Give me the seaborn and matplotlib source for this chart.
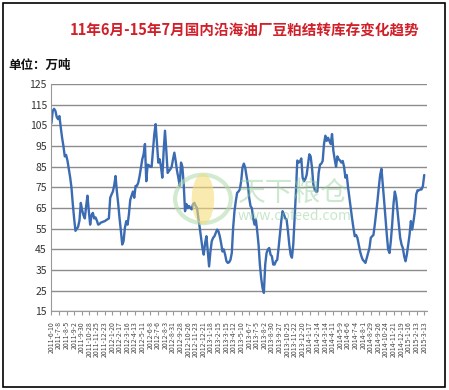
import numpy as np
import pandas as pd
import seaborn as sns
import matplotlib.pyplot as plt
from matplotlib.patches import Circle, Ellipse, Rectangle

# weekly soybean meal carry-over stock, 10k tonnes
stock_2011_2012a = [106, 112, 113, 112, 109, 108, 109.5, 104, 99, 95, 90, 90.7, 88, 84, 80, 75,
                    67, 60, 54, 55, 56, 59, 67.5, 64, 61.5, 60, 66, 71, 63.5, 57, 61.5, 62.7,
                    60, 60.5, 59, 57, 57.3, 58, 58.2, 58.5, 58.7, 59.2, 59.6, 60, 70, 71.6, 73]
stock_2012b = [76, 80.5, 73, 67, 60, 54, 47.4, 49, 55.5, 58.7, 57, 62, 69, 71, 73, 70, 75.7,
               75.7, 77.3, 80.5, 84.6, 88.6, 91, 96, 78, 86, 85.7, 85, 84.9, 92.7, 100.8, 105.6,
               96, 87, 88.6, 85, 79.7, 92.7, 102.4, 92.7, 82, 83, 83.8, 85, 88.6, 91.8, 87.8]
stock_2013 = [83, 79.7, 75.7, 87, 85, 76.5, 63.5, 67, 65, 66, 65, 64.4, 67, 67.5, 66, 65,
              60, 55.5, 50.6, 45.7, 42.5, 48, 51.4, 44, 36.8, 44, 49, 50.6, 51.4, 53, 54.6, 53.8,
              51.4, 48, 44, 45, 42.5, 39.3, 38.5, 38.8, 40, 43.3, 55.5, 63.5, 68.4, 72.4, 73, 74]
stock_2014a = [78, 84.6, 86.5, 84.6, 80.5, 76.5, 70, 66, 65, 60, 57, 59.5, 54, 47.4, 37.7, 31,
               26.3, 24, 37.7, 43.3, 45, 45.7, 42.5, 41.7, 37.7, 37.7, 39.3, 40, 45.7, 52, 58.7,
               63.5, 62, 60, 59.5, 54, 47.4, 42.5, 41, 47.4, 60, 73, 88, 87, 87.5, 89, 79.7, 78]
stock_2014b = [79, 81, 86, 91, 90, 84.6, 76.5, 74, 73, 73, 82, 86, 86.5, 87.8, 96, 100, 97.5,
               99, 97.5, 96, 100.8, 92.7, 88.6, 85, 90, 88.6, 88, 87, 87.8, 85, 79.7, 81, 75, 70,
               65, 60, 55.5, 51.4, 52, 50.6, 47.4, 44, 41.7, 40, 39.3, 38.5, 41, 43.3]
stock_2015 = [45.7, 50.6, 51.4, 52, 57, 62.7, 68.4, 75, 81, 84, 76.5, 68.4, 60, 52, 45, 43.3,
              49, 57, 67, 73, 70, 63.5, 57, 50.6, 47.4, 45.7, 41.7, 39.3, 42.5, 47.4, 52, 58.7,
              54.6, 58.7, 63.5, 71.6, 73.6, 73.6, 74, 74, 75.7, 81]

stock = stock_2011_2012a + stock_2012b + stock_2013 + stock_2014a + stock_2014b + stock_2015
date_labels = [d.strftime('%Y-') + str(d.month) + '-' + str(d.day)
               for d in pd.date_range('2011-06-10', periods=50, freq='4W-FRI')]
y_ticks = list(range(15, 126, 10))

df = pd.DataFrame({'idx': np.arange(len(stock)), 'stock': stock})

sns.set_style('white')
plt.rcParams['font.family'] = ['Noto Sans CJK SC', 'DejaVu Sans']

fig = plt.figure(figsize=(4.49, 3.90), dpi=100)
ax = fig.add_axes([0.1136, 0.2013, 0.8363, 0.5833])

sns.lineplot(data=df, x='idx', y='stock', ax=ax, color='#3b6bb2', linewidth=1.7)

ax.set_ylim(15, 125)
ax.set_yticks(y_ticks)
ax.set_yticklabels([str(v) for v in y_ticks], fontsize=7.5, color='#333333')
ax.set_xlim(-0.3, len(stock) + 0.7)
ax.set_xticks(np.linspace(0, len(stock) - 1, len(date_labels)))
ax.set_xticklabels(date_labels, rotation=90, fontsize=5, color='#444444',
                   va='top', ha='center')
ax.tick_params(axis='x', length=3, color='#999999', pad=4, bottom=True, direction='out')
ax.tick_params(axis='y', length=0, pad=3)
ax.set_xlabel('')
ax.set_ylabel('')
ax.grid(axis='y', color='#8c8c8c', linewidth=1)
ax.set_axisbelow(True)
for s in ['top', 'right']:
    ax.spines[s].set_visible(False)
ax.spines['left'].set_color('#999999')
ax.spines['bottom'].set_color('#999999')

# title and unit
fig.text(0.545, 0.922, '11年6月-15年7月国内沿海油厂豆粕结转库存变化趋势',
         ha='center', va='center', fontsize=10.5, fontweight='bold', color='#d0202a')
fig.text(0.018, 0.833, '单位：万吨', ha='left', va='center', fontsize=9,
         fontweight='bold', color='#111111')

# faint watermark
fig.patches.append(Circle((0.452, 0.49), 0.062, transform=fig.transFigure,
                          fill=False, ec='#b5dcb0', lw=3, alpha=0.6))
fig.patches.append(Ellipse((0.452, 0.49), 0.05, 0.13, transform=fig.transFigure,
                           fc='#f6dc7a', ec='none', alpha=0.6))
fig.text(0.53, 0.505, '天下粮仓', ha='left', va='center', fontsize=20,
         color='#8fcf96', alpha=0.45)
fig.text(0.53, 0.445, 'www.cofeed.com', ha='left', va='center', fontsize=10,
         color='#8fcf96', alpha=0.5)

# outer frame
fig.patches.append(Rectangle((0.007, 0.008), 0.985, 0.984, transform=fig.transFigure,
                             fill=False, ec='black', lw=1.2))

fig.savefig('out.png', dpi=100)
